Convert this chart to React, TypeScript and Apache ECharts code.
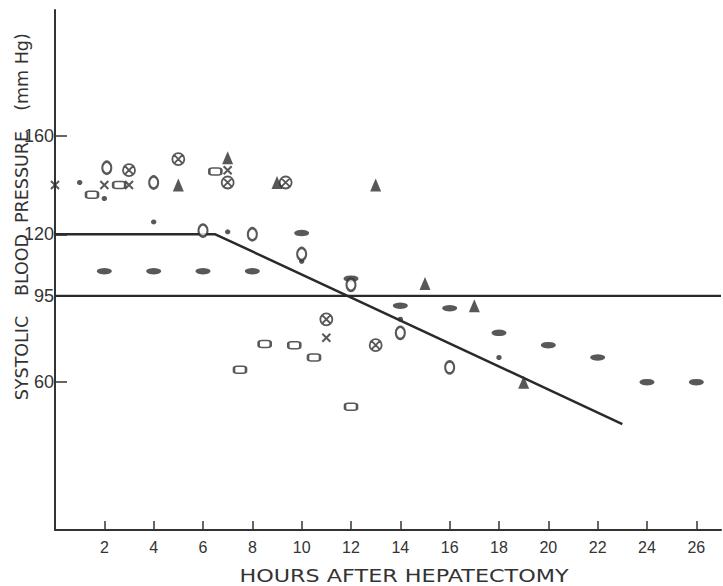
import React, { useEffect, useRef } from "react";
import * as echarts from "echarts";

// Axis ticks
const xTickValues = [2, 4, 6, 8, 10, 12, 14, 16, 18, 20, 22, 24, 26];
const yTickValues = [60, 95, 120, 160];

// Reference lines
const normalLevel = [[0, 95], [27, 95]];
const trendLine = [[0, 120], [6.5, 120], [23, 43]];

// Data points [hours, systolic pressure]
const smallDots = [[1, 141], [2, 134.5], [4, 125], [7, 121], [10, 109], [14, 85.5], [18, 70]];
const filledOvals = [[2, 105], [4, 105], [6, 105], [8, 105], [10, 120.5], [12, 102], [14, 91], [16, 90], [18, 80], [20, 75], [22, 70], [24, 60], [26, 60]];
const openCircles = [[2.1, 147], [4, 141], [6, 121.5], [8, 120], [10, 112], [12, 99.5], [14, 80], [16, 66]];
const crossedCircles = [[3, 146], [5, 150.5], [7, 141], [9.35, 141], [11, 85.5], [13, 75]];
const openRects = [[1.5, 136], [2.6, 140], [6.5, 145.5], [7.5, 65], [8.5, 75.5], [9.7, 75], [10.5, 70], [12, 50]];
const triangles = [[5, 140], [7, 151], [9, 141], [13, 140], [15, 100], [17, 91], [19, 60]];
const crosses = [[0, 140], [2, 140], [3, 140], [7, 146], [11, 78]];

const INK = "#2e2e2e";

export default function App() {
  const ref = useRef<HTMLDivElement>(null);
  useEffect(() => {
    document.body.style.margin = "0";
    const chart = echarts.init(ref.current!, null, { renderer: "svg" });
    const openStyle = { color: "#ffffff", borderColor: INK, borderWidth: 2 };
    const strokeStyle = { color: "transparent", borderColor: INK, borderWidth: 1.8 };
    const wordStyle = (text: string) => ({
      text,
      fontFamily: "DejaVu Sans",
      fontSize: 17.5,
      fill: "#333",
      align: "center",
      verticalAlign: "middle",
      textAlign: "center",
      textVerticalAlign: "middle",
    });
    chart.setOption({
      animation: false,
      backgroundColor: "#ffffff",
      grid: { left: 55, right: 2, top: 10, bottom: 56 },
      xAxis: {
        type: "value",
        min: 0,
        max: 27,
        axisLine: { show: true, lineStyle: { color: "#333", width: 2 } },
        axisTick: { show: true, inside: true, length: 9, customValues: xTickValues, lineStyle: { color: "#333", width: 1.5 } },
        axisLabel: { show: true, customValues: xTickValues, margin: 9, fontSize: 16, fontFamily: "Liberation Sans", color: "#333" },
        splitLine: { show: false },
      },
      yAxis: {
        type: "value",
        min: 0,
        max: 211,
        axisLine: { show: true, onZero: false, lineStyle: { color: "#333", width: 2 } },
        axisTick: { show: true, inside: true, length: 12, customValues: yTickValues, lineStyle: { color: "#333", width: 1.5 } },
        axisLabel: { show: true, customValues: yTickValues, margin: 1, fontSize: 18, fontFamily: "Liberation Sans Narrow, Liberation Sans", color: "#333" },
        splitLine: { show: false },
      },
      graphic: [
        { type: "text", x: 404, y: 576, scaleX: 1.24, style: { ...wordStyle("HOURS AFTER HEPATECTOMY"), fontSize: 18 } },
        { type: "text", x: 22, y: 358, rotation: Math.PI / 2, style: wordStyle("SYSTOLIC") },
        { type: "text", x: 22, y: 265, rotation: Math.PI / 2, style: wordStyle("BLOOD") },
        { type: "text", x: 22, y: 177, rotation: Math.PI / 2, style: wordStyle("PRESSURE") },
        { type: "text", x: 22, y: 72, rotation: Math.PI / 2, style: wordStyle("(mm Hg)") },
      ],
      series: [
        { type: "line", data: normalLevel, showSymbol: false, lineStyle: { color: "#2a2a2a", width: 2.2 }, z: 1 },
        { type: "line", data: trendLine, showSymbol: false, lineStyle: { color: "#2a2a2a", width: 2.5 }, z: 1 },
        { type: "scatter", data: smallDots, symbol: "circle", symbolSize: [5.5, 5], itemStyle: { color: INK } },
        { type: "scatter", data: filledOvals, symbol: "circle", symbolSize: [15, 6.5], itemStyle: { color: INK } },
        { type: "scatter", data: openCircles, symbol: "circle", symbolSize: [9, 12], itemStyle: { ...openStyle, borderWidth: 2.3 } },
        {
          type: "scatter",
          data: crossedCircles,
          symbol: "path://M10,0A10,10,0,1,1,10,20A10,10,0,1,1,10,0ZM3,3L17,17M17,3L3,17",
          symbolSize: [12, 12],
          itemStyle: { ...strokeStyle, borderWidth: 1.8 },
        },
        { type: "scatter", data: openRects, symbol: "roundRect", symbolSize: [12, 7], itemStyle: openStyle },
        { type: "scatter", data: triangles, symbol: "triangle", symbolSize: [11, 13], itemStyle: { color: INK } },
        { type: "scatter", data: crosses, symbol: "path://M0,0L10,10M10,0L0,10", symbolSize: [8, 8], itemStyle: { ...strokeStyle, borderWidth: 2 } },
      ],
    });
    return () => chart.dispose();
  }, []);
  return <div ref={ref} style={{ position: "absolute", left: 0, top: 0, width: 723, height: 586 }} />;
}
